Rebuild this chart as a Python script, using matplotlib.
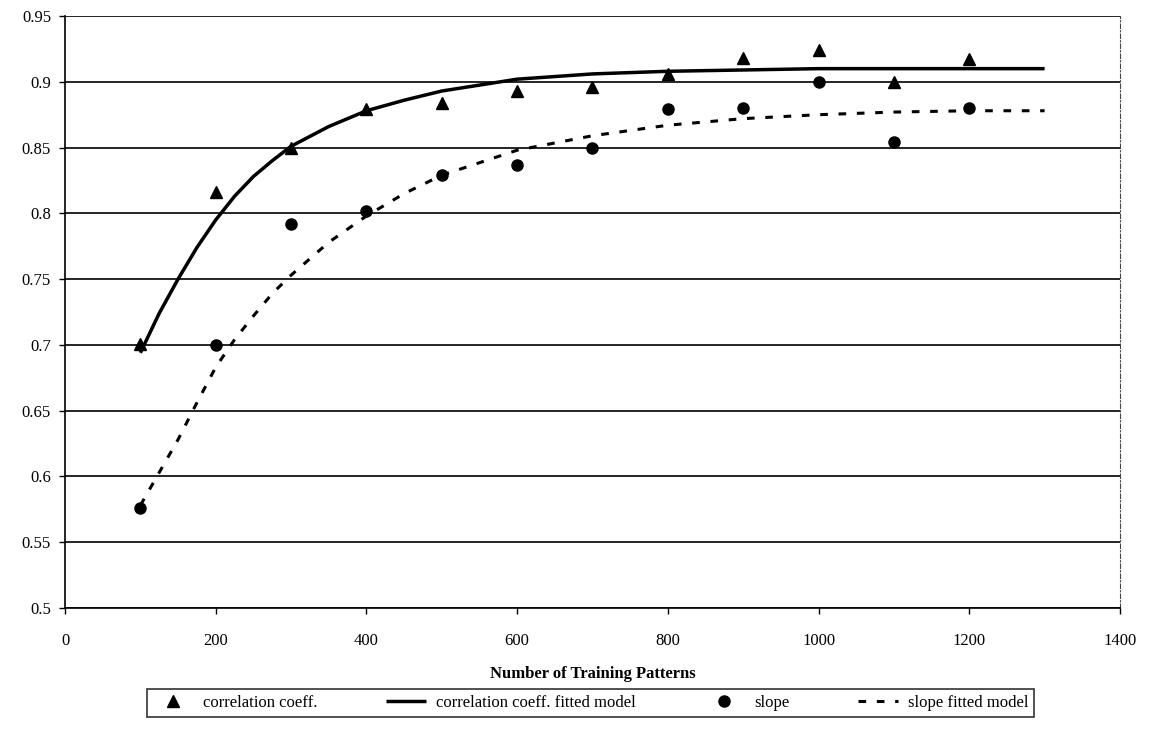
import matplotlib
matplotlib.use("Agg")
import matplotlib.pyplot as plt

# Observed data
patterns = [100, 200, 300, 400, 500, 600, 700, 800, 900, 1000, 1100, 1200]
corr_coeff = [0.701, 0.816, 0.850, 0.879, 0.884, 0.893, 0.896, 0.906, 0.918, 0.924, 0.900, 0.917]
slope = [0.576, 0.700, 0.792, 0.802, 0.829, 0.837, 0.850, 0.879, 0.880, 0.900, 0.854, 0.880]

# Fitted model curves
fit_x = [100, 125, 150, 175, 200, 225, 250, 275, 300, 350, 400, 450, 500, 600, 700, 800, 900, 1000, 1100, 1200, 1300]
corr_fit = [0.694, 0.724, 0.750, 0.774, 0.795, 0.813, 0.828, 0.840, 0.851, 0.866, 0.878, 0.886, 0.893, 0.902, 0.906, 0.908, 0.909, 0.910, 0.910, 0.910, 0.910]
slope_fit = [0.578, 0.603, 0.628, 0.656, 0.683, 0.704, 0.722, 0.739, 0.753, 0.778, 0.798, 0.815, 0.829, 0.848, 0.859, 0.867, 0.872, 0.875, 0.877, 0.878, 0.878]

yticks = [0.5, 0.55, 0.6, 0.65, 0.7, 0.75, 0.8, 0.85, 0.9, 0.95]
ytick_labels = ["0.5", "0.55", "0.6", "0.65", "0.7", "0.75", "0.8", "0.85", "0.9", "0.95"]
xticks = [0, 200, 400, 600, 800, 1000, 1200, 1400]

plt.rcParams['font.family'] = ['Liberation Serif', 'DejaVu Serif']

fig = plt.figure(figsize=(11.67, 7.29), dpi=100)
ax = fig.add_axes([0.0557, 0.166, 0.904, 0.812])

for y in yticks:
    ax.axhline(y, color='black', lw=1.2, zorder=1)

ax.plot(patterns, corr_coeff, linestyle='none', marker='^', color='black', markersize=8,
        label='correlation coeff.', zorder=3)
ax.plot(fit_x, corr_fit, color='black', lw=2.5, solid_capstyle='butt',
        label='correlation coeff. fitted model', zorder=2)
ax.plot(patterns, slope, linestyle='none', marker='o', color='black', markersize=8,
        label='slope', zorder=3)
ax.plot(fit_x, slope_fit, color='black', lw=2.2, linestyle=(0, (2.5, 3.5)),
        label='slope fitted model', zorder=2)

ax.set_xlim(0, 1400)
ax.set_ylim(0.5, 0.95)
ax.set_xticks(xticks)
ax.set_xticklabels([str(v) for v in xticks])
ax.set_yticks(yticks)
ax.set_yticklabels(ytick_labels)
ax.tick_params(axis='both', labelsize=12, direction='out', length=4, width=1, color='black', pad=6)
ax.tick_params(axis='x', pad=14)

for s in ['left', 'bottom']:
    ax.spines[s].set_color('black')
    ax.spines[s].set_linewidth(1.2)
ax.spines['top'].set_visible(False)
ax.spines['right'].set_color('#444444')
ax.spines['right'].set_linewidth(0.8)
ax.spines['right'].set_linestyle((0, (4, 2, 1, 2)))

ax.set_xlabel('Number of Training Patterns', fontsize=12, fontweight='bold', labelpad=12)

leg = fig.legend(loc='center', bbox_to_anchor=(0.506, 0.0357), ncol=4, frameon=True,
                 fontsize=12, handlelength=2.4, columnspacing=4.1, handletextpad=0.6,
                 borderpad=0.35, fancybox=False, edgecolor='black')
leg.get_frame().set_linewidth(1.2)

fig.savefig('out.png', dpi=100)
